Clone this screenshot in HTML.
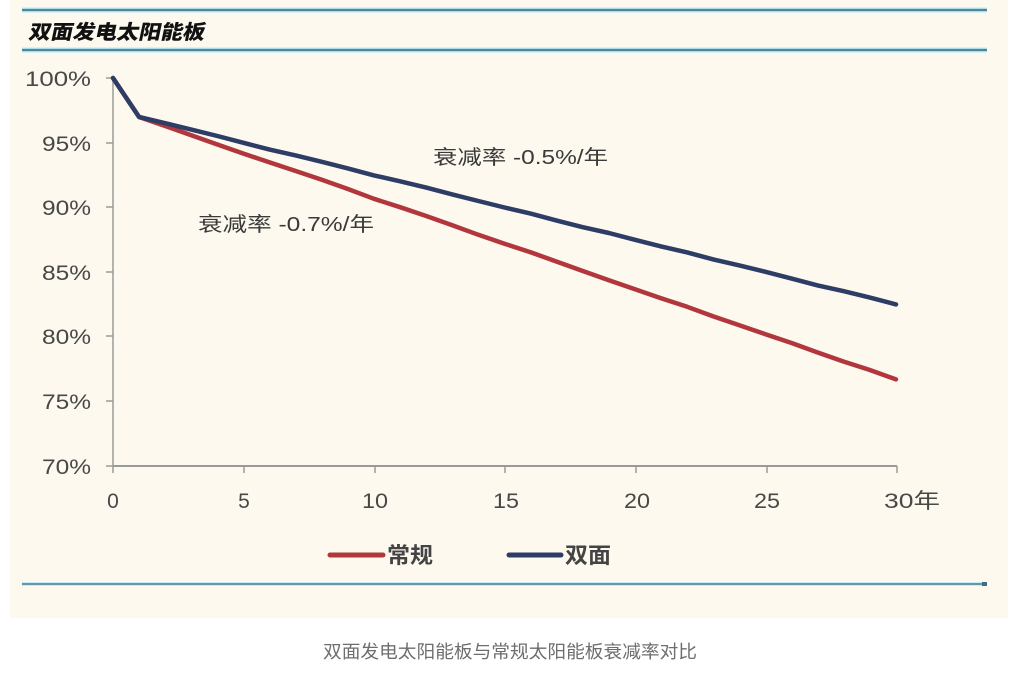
<!DOCTYPE html>
<html>
<head>
<meta charset="utf-8">
<style>
  html, body { margin:0; padding:0; background:#ffffff; }
  body { width:1027px; height:682px; overflow:hidden; position:relative; }
  svg { position:absolute; left:0; top:0; }
</style>
</head>
<body>
<svg width="1027" height="682" viewBox="0 0 1027 682" xmlns="http://www.w3.org/2000/svg">
  <!-- cream chart panel -->
  <rect x="10" y="0" width="998" height="618" fill="#fdf9ef"/>

  <!-- top rules -->
  <line x1="22" y1="10" x2="987" y2="10" stroke="#bfe8f2" stroke-width="5"/>
  <line x1="22" y1="10" x2="987" y2="10" stroke="#4e8799" stroke-width="2.2"/>
  <line x1="22" y1="50" x2="987" y2="50" stroke="#bfe8f2" stroke-width="5"/>
  <line x1="22" y1="50" x2="987" y2="50" stroke="#4e8799" stroke-width="2.2"/>

  <!-- title -->
  <g transform="translate(28,39) skewX(-12)">
    <text x="0" y="0" font-family="'Liberation Sans','Noto Sans CJK SC',sans-serif" font-weight="900" font-size="20" fill="#111" textLength="176" lengthAdjust="spacingAndGlyphs">双面发电太阳能板</text>
  </g>

  <!-- y axis -->
  <line x1="113" y1="78" x2="113" y2="466" stroke="#9a9a9a" stroke-width="1.5"/>
  <g stroke="#9a9a9a" stroke-width="1.5">
    <line x1="106" y1="78" x2="113" y2="78"/>
    <line x1="106" y1="143" x2="113" y2="143"/>
    <line x1="106" y1="207" x2="113" y2="207"/>
    <line x1="106" y1="272" x2="113" y2="272"/>
    <line x1="106" y1="336" x2="113" y2="336"/>
    <line x1="106" y1="401" x2="113" y2="401"/>
    <line x1="106" y1="466" x2="113" y2="466"/>
  </g>
  <g font-family="'Liberation Sans',sans-serif" font-size="21" fill="#484848" text-anchor="end">
    <text x="91" y="86" textLength="66" lengthAdjust="spacingAndGlyphs">100%</text>
    <text x="91" y="151" textLength="49" lengthAdjust="spacingAndGlyphs">95%</text>
    <text x="91" y="215" textLength="49" lengthAdjust="spacingAndGlyphs">90%</text>
    <text x="91" y="280" textLength="49" lengthAdjust="spacingAndGlyphs">85%</text>
    <text x="91" y="344" textLength="49" lengthAdjust="spacingAndGlyphs">80%</text>
    <text x="91" y="409" textLength="49" lengthAdjust="spacingAndGlyphs">75%</text>
    <text x="91" y="474" textLength="49" lengthAdjust="spacingAndGlyphs">70%</text>
  </g>

  <!-- x axis -->
  <line x1="113" y1="466" x2="897" y2="466" stroke="#9a9a9a" stroke-width="2"/>
  <g stroke="#9a9a9a" stroke-width="1.5">
    <line x1="113" y1="466" x2="113" y2="473"/>
    <line x1="244" y1="466" x2="244" y2="473"/>
    <line x1="375" y1="466" x2="375" y2="473"/>
    <line x1="505" y1="466" x2="505" y2="473"/>
    <line x1="636" y1="466" x2="636" y2="473"/>
    <line x1="767" y1="466" x2="767" y2="473"/>
    <line x1="897" y1="466" x2="897" y2="473"/>
  </g>
  <g font-family="'Liberation Sans',sans-serif" font-size="21" fill="#484848" text-anchor="middle">
    <text x="113" y="508">0</text>
    <text x="244" y="508">5</text>
    <text x="375" y="508" textLength="26" lengthAdjust="spacingAndGlyphs">10</text>
    <text x="506" y="508" textLength="26" lengthAdjust="spacingAndGlyphs">15</text>
    <text x="637" y="508" textLength="26" lengthAdjust="spacingAndGlyphs">20</text>
    <text x="767" y="508" textLength="26" lengthAdjust="spacingAndGlyphs">25</text>
  </g>
  <text x="884" y="508" font-family="'Liberation Sans','Noto Sans CJK SC',sans-serif" font-size="21" fill="#484848" textLength="56" lengthAdjust="spacingAndGlyphs">30年</text>

  <!-- series: 常规 (red) -->
  <polyline fill="none" stroke="#b2373d" stroke-width="4.5" stroke-linejoin="round" stroke-linecap="round"
    points="113,78 139.1,117 165.2,126 191.3,135.3 217.4,144.5 243.5,153.6 269.6,162.4 295.7,171 321.8,179.8 347.9,189 374,198.8 400.1,207.2 426.2,216 452.3,225.2 478.4,234.8 504.5,243.7 530.6,252.3 556.7,261.6 582.8,271 608.9,280.3 635,289.2 661.1,298.2 687.2,306.8 713.3,316.4 739.4,325.2 765.5,334.2 791.6,343 817.7,352.5 843.8,361.6 869.9,370 896,379.4"/>
  <!-- series: 双面 (navy) -->
  <polyline fill="none" stroke="#2e3d66" stroke-width="4.5" stroke-linejoin="round" stroke-linecap="round"
    points="113,78 139.1,117 165.2,123.2 191.3,129.6 217.4,136 243.5,142.8 269.6,149.6 295.7,155.4 321.8,161.8 347.9,168.4 374,175.4 400.1,181.3 426.2,187.6 452.3,194.4 478.4,201 504.5,207.5 530.6,213.6 556.7,220.6 582.8,227.2 608.9,233 635,239.8 661.1,246.4 687.2,252.4 713.3,259.4 739.4,265.4 765.5,271.8 791.6,278.6 817.7,285.4 843.8,291.2 869.9,297.6 896,304.4"/>

  <!-- annotations -->
  <text x="433" y="164" font-family="'Liberation Sans','Noto Sans CJK SC',sans-serif" font-size="20" fill="#3a3a3a" textLength="175" lengthAdjust="spacingAndGlyphs">衰减率 -0.5%/年</text>
  <text x="198" y="231" font-family="'Liberation Sans','Noto Sans CJK SC',sans-serif" font-size="20" fill="#3a3a3a" textLength="176" lengthAdjust="spacingAndGlyphs">衰减率 -0.7%/年</text>

  <!-- legend -->
  <line x1="330" y1="555" x2="383" y2="555" stroke="#b2373d" stroke-width="5" stroke-linecap="round"/>
  <text x="387" y="563" font-family="'Liberation Sans','Noto Sans CJK SC',sans-serif" font-size="22" font-weight="bold" fill="#444" textLength="46" lengthAdjust="spacingAndGlyphs">常规</text>
  <line x1="509" y1="555" x2="561" y2="555" stroke="#2e3d66" stroke-width="5" stroke-linecap="round"/>
  <text x="565" y="563" font-family="'Liberation Sans','Noto Sans CJK SC',sans-serif" font-size="22" font-weight="bold" fill="#444" textLength="46" lengthAdjust="spacingAndGlyphs">双面</text>

  <!-- bottom rule -->
  <line x1="22" y1="584" x2="987" y2="584" stroke="#c6ecf5" stroke-width="4"/>
  <line x1="22" y1="584" x2="987" y2="584" stroke="#5a8a99" stroke-width="1.8"/>
  <rect x="982" y="582" width="5" height="4" fill="#3e6f80"/>

  <!-- caption -->
  <text x="510" y="658" text-anchor="middle" font-family="'Liberation Sans','Noto Sans CJK SC',sans-serif" font-size="18" fill="#6e6e6e" textLength="374" lengthAdjust="spacingAndGlyphs">双面发电太阳能板与常规太阳能板衰减率对比</text>
</svg>
</body>
</html>
